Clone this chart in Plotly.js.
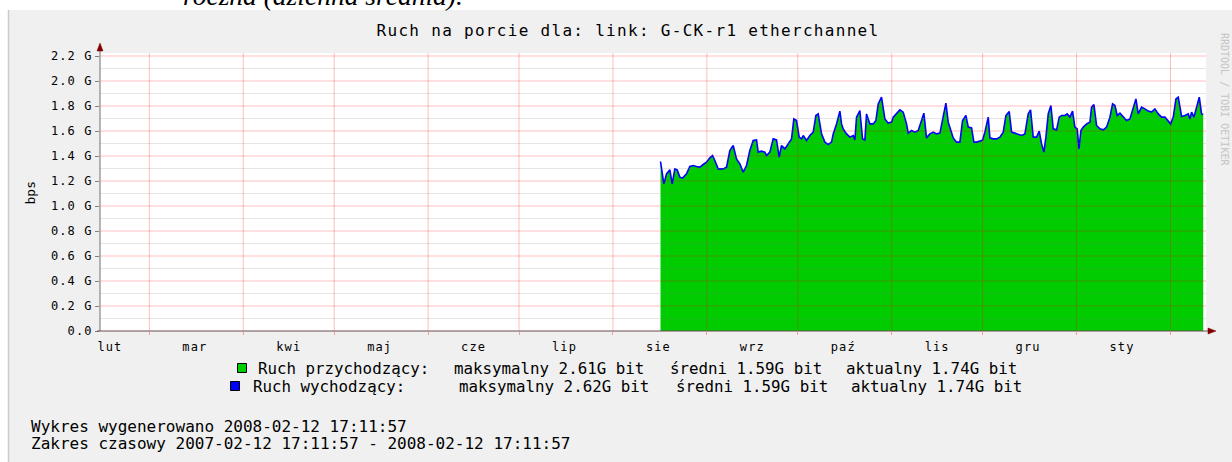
<!DOCTYPE html>
<html>
<head>
<meta charset="utf-8">
<script src="https://cdn.plot.ly/plotly-3.0.1.min.js"></script>
<style>
  html, body { margin: 0; padding: 0; background: #ffffff; }
  #chart { width: 1232px; height: 462px; }
  .gtitle { letter-spacing: 1.3px; }
  .xtick text, .ytick text { letter-spacing: 1.1px; }
</style>
</head>
<body>
<div id="chart"></div>
<script>
// ---------------- DATA ----------------
// days since 2007-08-01 00:00 for each daily-average sample
const dayOffsets = [
  15.70,16.80,17.68,18.78,19.55,20.43,21.20,22.08,22.96,24.28,
  25.38,26.48,27.58,28.68,29.78,30.88,31.98,32.86,33.63,34.73,
  36.38,37.48,38.58,39.68,40.78,41.88,42.98,44.08,45.18,46.28,
  47.38,47.93,49.03,50.13,50.68,51.78,52.88,53.98,54.86,55.63,
  56.73,57.83,58.93,59.70,60.58,61.46,62.24,62.79,63.89,64.99,
  66.09,66.97,67.74,68.84,69.94,71.04,72.14,72.69,73.79,74.89,
  75.44,75.99,77.09,78.19,79.29,79.84,80.39,81.49,82.37,83.14,
  83.69,84.79,85.89,86.77,87.54,88.64,89.74,90.84,91.94,92.49,
  93.59,94.69,95.79,96.89,97.44,98.54,99.64,100.74,101.84,102.61,
  103.49,104.59,105.69,106.79,107.90,108.78,109.88,110.65,111.75,112.30,
  113.40,114.50,115.38,116.48,117.25,118.35,119.12,120.00,121.10,121.98,
  122.75,123.85,124.40,125.50,126.60,127.70,128.80,129.68,130.78,131.55,
  132.65,133.75,134.85,135.95,137.05,137.82,138.70,139.80,140.68,141.45,
  142.22,142.88,143.65,144.53,145.30,146.40,147.28,148.05,149.15,149.92,
  150.80,151.68,152.45,153.22,153.78,154.44,155.21,156.31,157.41,157.96,
  158.73,159.61,160.71,161.81,162.91,164.01,164.89,165.66,166.43,167.31,
  168.41,169.51,170.61,171.49,172.59,173.36,174.46,175.56,176.66,177.76,
  178.86,179.96,181.06,182.16,183.26,184.03,184.91,185.79,186.56,187.66,
  188.76,189.86,190.41,190.96,191.73,192.61,193.49,194.26,194.81
];
// incoming traffic, Gbit/s
const inboundG = [
  1.356,1.177,1.257,1.289,1.177,1.297,1.289,1.231,1.223,1.257,
  1.316,1.324,1.316,1.311,1.332,1.351,1.385,1.404,1.364,1.297,
  1.297,1.311,1.444,1.484,1.377,1.337,1.271,1.324,1.444,1.524,
  1.529,1.431,1.439,1.431,1.404,1.431,1.537,1.529,1.391,1.484,
  1.457,1.497,1.537,1.697,1.684,1.551,1.537,1.564,1.524,1.564,
  1.591,1.724,1.737,1.577,1.511,1.492,1.511,1.577,1.657,1.759,
  1.657,1.617,1.577,1.551,1.564,1.529,1.711,1.764,1.537,1.529,
  1.737,1.657,1.657,1.684,1.817,1.871,1.697,1.663,1.671,1.711,
  1.737,1.769,1.751,1.657,1.583,1.604,1.591,1.604,1.684,1.743,
  1.545,1.577,1.591,1.577,1.583,1.697,1.823,1.671,1.577,1.545,
  1.511,1.511,1.684,1.724,1.631,1.625,1.511,1.511,1.519,1.529,
  1.591,1.711,1.545,1.537,1.537,1.551,1.591,1.724,1.756,1.591,
  1.583,1.572,1.564,1.577,1.737,1.769,1.551,1.551,1.599,1.497,
  1.431,1.551,1.737,1.804,1.617,1.609,1.711,1.724,1.724,1.737,
  1.711,1.759,1.631,1.617,1.457,1.604,1.631,1.657,1.671,1.791,
  1.812,1.644,1.617,1.609,1.631,1.711,1.817,1.804,1.724,1.743,
  1.711,1.684,1.697,1.777,1.857,1.737,1.791,1.777,1.759,1.751,
  1.777,1.737,1.711,1.711,1.684,1.657,1.711,1.857,1.871,1.716,
  1.724,1.737,1.697,1.751,1.711,1.791,1.871,1.737,1.732
];
// outgoing traffic, Gbit/s (practically identical on the picture)
const outboundG = [
  1.356,1.177,1.257,1.289,1.177,1.297,1.289,1.231,1.223,1.257,
  1.316,1.324,1.316,1.311,1.332,1.351,1.385,1.404,1.364,1.297,
  1.297,1.311,1.444,1.484,1.377,1.337,1.271,1.324,1.444,1.524,
  1.529,1.431,1.439,1.431,1.404,1.431,1.537,1.529,1.391,1.484,
  1.457,1.497,1.537,1.697,1.684,1.551,1.537,1.564,1.524,1.564,
  1.591,1.724,1.737,1.577,1.511,1.492,1.511,1.577,1.657,1.759,
  1.657,1.617,1.577,1.551,1.564,1.529,1.711,1.764,1.537,1.529,
  1.737,1.657,1.657,1.684,1.817,1.871,1.697,1.663,1.671,1.711,
  1.737,1.769,1.751,1.657,1.583,1.604,1.591,1.604,1.684,1.743,
  1.545,1.577,1.591,1.577,1.583,1.697,1.823,1.671,1.577,1.545,
  1.511,1.511,1.684,1.724,1.631,1.625,1.511,1.511,1.519,1.529,
  1.591,1.711,1.545,1.537,1.537,1.551,1.591,1.724,1.756,1.591,
  1.583,1.572,1.564,1.577,1.737,1.769,1.551,1.551,1.599,1.497,
  1.431,1.551,1.737,1.804,1.617,1.609,1.711,1.724,1.724,1.737,
  1.711,1.759,1.631,1.617,1.457,1.604,1.631,1.657,1.671,1.791,
  1.812,1.644,1.617,1.609,1.631,1.711,1.817,1.804,1.724,1.743,
  1.711,1.684,1.697,1.777,1.857,1.737,1.791,1.777,1.759,1.751,
  1.777,1.737,1.711,1.711,1.684,1.657,1.711,1.857,1.871,1.716,
  1.724,1.737,1.697,1.751,1.711,1.791,1.871,1.737,1.732
];

const timeRange = ['2007-02-12 17:11:57', '2008-02-12 17:11:57'];
const monthStarts = ['2007-03-01','2007-04-01','2007-05-01','2007-06-01','2007-07-01','2007-08-01',
                     '2007-09-01','2007-10-01','2007-11-01','2007-12-01','2008-01-01','2008-02-01'];
const monthLabelDates = ['2007-02-16','2007-03-16','2007-04-16','2007-05-16','2007-06-16','2007-07-16',
                         '2007-08-16','2007-09-16','2007-10-16','2007-11-16','2007-12-16','2008-01-16'];
const monthLabels = ['lut','mar','kwi','maj','cze','lip','sie','wrz','paź','lis','gru','sty'];
const yMajorG = [0,0.2,0.4,0.6,0.8,1.0,1.2,1.4,1.6,1.8,2.0,2.2];
const yMajorText = ['0.0','0.2 G','0.4 G','0.6 G','0.8 G','1.0 G','1.2 G','1.4 G','1.6 G','1.8 G','2.0 G','2.2 G'];
const yMinorG = [0.1,0.3,0.5,0.7,0.9,1.1,1.3,1.5,1.7,1.9,2.1];
const yMaxG = 2.224;

const titleText = 'Ruch na porcie dla: link: G-CK-r1 etherchannel';
const legendIn  = ['Ruch przychodzący:', 'maksymalny 2.61G bit', 'średni 1.59G bit', 'aktualny 1.74G bit'];
const legendOut = ['Ruch wychodzący:',   'maksymalny 2.62G bit', 'średni 1.59G bit', 'aktualny 1.74G bit'];
const footer1 = 'Wykres wygenerowano 2008-02-12 17:11:57';
const footer2 = 'Zakres czasowy 2007-02-12 17:11:57 - 2008-02-12 17:11:57';
const caption = 'roczna (dzienna średnia).';
const watermark = 'RRDTOOL / TOBI OETIKER';

// ---------------- helpers ----------------
const G = 1e9;
const base = Date.UTC(2007, 7, 1);
const toDate = d => new Date(base + d * 86400000).toISOString().replace('T', ' ').slice(0, 19);
const xDates = dayOffsets.map(toDate);

const L = 100, R = 1206, T = 53, B = 331, W = R - L, H = B - T;
const px = x => (x - L) / W;
const py = y => (B - y) / H;

const mono = 'DejaVu Sans Mono, monospace';
const GREEN = '#00cc00', BLUE = '#0000ff';

// ---------------- traces ----------------
const traces = [
  { x: xDates, y: inboundG.map(v => v * G), type: 'scatter', mode: 'lines',
    fill: 'tozeroy', fillcolor: GREEN, line: { color: GREEN, width: 0 },
    hoverinfo: 'skip', showlegend: false },
  { x: xDates, y: outboundG.map(v => v * G), type: 'scatter', mode: 'lines',
    line: { color: BLUE, width: 1.6 }, hoverinfo: 'skip', showlegend: false }
];

// ---------------- shapes ----------------
const shapes = [];
// page background outside the graph image
shapes.push({ type: 'rect', xref: 'paper', yref: 'paper', x0: px(0), x1: px(1232), y0: py(10), y1: py(0),
  fillcolor: '#ffffff', line: { width: 0 }, layer: 'below' });
shapes.push({ type: 'rect', xref: 'paper', yref: 'paper', x0: px(0), x1: px(8), y0: py(462), y1: py(0),
  fillcolor: '#ffffff', line: { width: 0 }, layer: 'below' });
shapes.push({ type: 'line', xref: 'paper', yref: 'paper', x0: px(8.5), x1: px(8.5), y0: py(462), y1: py(10),
  line: { color: '#cbcbcb', width: 1.5 }, layer: 'below' });
// grid drawn over the data
yMinorG.forEach(v => shapes.push({ type: 'line', xref: 'paper', yref: 'y', x0: 0, x1: 1, y0: v * G, y1: v * G,
  line: { color: 'rgba(128,128,128,0.2)', width: 1 }, layer: 'above' }));
yMajorG.slice(1).forEach(v => shapes.push({ type: 'line', xref: 'paper', yref: 'y', x0: 0, x1: 1, y0: v * G, y1: v * G,
  line: { color: 'rgba(255,0,0,0.25)', width: 1 }, layer: 'above' }));
monthStarts.forEach(d => shapes.push({ type: 'line', xref: 'x', yref: 'paper', x0: d, x1: d, y0: 0, y1: 1,
  line: { color: 'rgba(255,0,0,0.25)', width: 1 }, layer: 'above' }));
// axes with arrows
shapes.push({ type: 'line', xref: 'paper', yref: 'paper', x0: 0, x1: 0, y0: 0, y1: py(47),
  line: { color: '#707070', width: 1 }, layer: 'above' });
shapes.push({ type: 'line', xref: 'paper', yref: 'paper', x0: px(97), x1: px(1211), y0: 0, y1: 0,
  line: { color: '#6a4a4a', width: 1 }, layer: 'above' });
shapes.push({ type: 'path', xref: 'paper', yref: 'paper',
  path: `M ${px(97)} ${py(51)} L ${px(100)} ${py(43)} L ${px(103)} ${py(51)} Z`,
  fillcolor: '#7f0000', line: { color: '#7f0000', width: 0.5 }, layer: 'above' });
shapes.push({ type: 'path', xref: 'paper', yref: 'paper',
  path: `M ${px(1208)} ${py(328)} L ${px(1216)} ${py(331)} L ${px(1208)} ${py(334)} Z`,
  fillcolor: '#7f0000', line: { color: '#7f0000', width: 0.5 }, layer: 'above' });
// legend swatches
shapes.push({ type: 'rect', xref: 'paper', yref: 'paper', x0: px(237.5), x1: px(246.5), y0: py(372.5), y1: py(363.5),
  fillcolor: GREEN, line: { color: '#000000', width: 1 } });
shapes.push({ type: 'rect', xref: 'paper', yref: 'paper', x0: px(230.5), x1: px(239.5), y0: py(390.5), y1: py(381.5),
  fillcolor: BLUE, line: { color: '#000000', width: 1 } });

// ---------------- annotations ----------------
const ann = (text, x, y, o = {}) => Object.assign({
  text, xref: 'paper', yref: 'paper', x: px(x), y: py(y), xanchor: 'left', yanchor: 'middle',
  showarrow: false, font: { family: mono, size: 16, color: '#000000' }
}, o);

const annotations = [
  ann(caption, 181, 13, { yanchor: 'bottom', font: { family: 'Liberation Serif, serif', size: 27.5, style: 'italic', color: '#000000' } }),
  ann('bps', 29.5, 193, { xanchor: 'center', textangle: -90, font: { family: mono, size: 13, color: '#000000' } }),
  ann(watermark, 1225, 99, { xanchor: 'center', textangle: 90, font: { family: mono, size: 10, color: '#c4c4c4' } }),
  ann(legendIn[0], 256, 368, { font: { family: mono, size: 15.8, color: '#000' } }),
  ann(legendIn[1], 452, 368, { font: { family: mono, size: 15.8, color: '#000' } }),
  ann(legendIn[2], 668, 368, { font: { family: mono, size: 15.8, color: '#000' } }),
  ann(legendIn[3], 844, 368, { font: { family: mono, size: 15.8, color: '#000' } }),
  ann(legendOut[0], 251, 386, { font: { family: mono, size: 15.8, color: '#000' } }),
  ann(legendOut[1], 457, 386, { font: { family: mono, size: 15.8, color: '#000' } }),
  ann(legendOut[2], 674, 386, { font: { family: mono, size: 15.8, color: '#000' } }),
  ann(legendOut[3], 849, 386, { font: { family: mono, size: 15.8, color: '#000' } }),
  ann(footer1, 29, 426),
  ann(footer2, 29, 443)
];

// ---------------- layout ----------------
const layout = {
  width: 1232, height: 462,
  margin: { l: L, r: 1232 - R, t: T, b: 462 - B, pad: 0 },
  paper_bgcolor: '#f0f0f0',
  plot_bgcolor: '#ffffff',
  showlegend: false,
  title: {
    text: titleText, xref: 'paper', x: px(628), xanchor: 'center',
    yref: 'container', y: 1 - 30.5 / 462, yanchor: 'middle',
    font: { family: mono, size: 16, color: '#000000' }
  },
  xaxis: {
    type: 'date', range: timeRange, showgrid: false, zeroline: false, showline: false,
    tickmode: 'array', tickvals: monthLabelDates, ticktext: monthLabels,
    ticks: 'outside', ticklen: 5, tickcolor: 'rgba(0,0,0,0)',
    tickfont: { family: mono, size: 12, color: '#000000' },
    minor: { tickmode: 'array', tickvals: monthStarts, ticks: 'outside', ticklen: 3,
             tickcolor: 'rgba(255,0,0,0.35)', showgrid: false },
    fixedrange: true
  },
  yaxis: {
    range: [0, yMaxG * G], showgrid: false, zeroline: false, showline: false,
    tickmode: 'array', tickvals: yMajorG.map(v => v * G), ticktext: yMajorText,
    ticks: 'outside', ticklen: 4, tickcolor: '#808080',
    tickfont: { family: mono, size: 12, color: '#000000' },
    fixedrange: true
  },
  shapes, annotations
};

Plotly.newPlot('chart', traces, layout, { staticPlot: true, displayModeBar: false });
</script>
</body>
</html>
